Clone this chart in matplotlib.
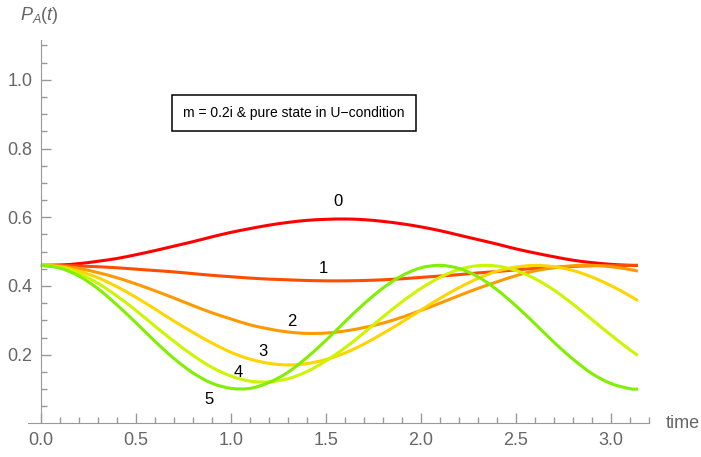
import numpy as np
import matplotlib
matplotlib.use("Agg")
import matplotlib.pyplot as plt
from matplotlib.path import Path
from matplotlib.patches import PathPatch
from matplotlib.ticker import FixedLocator

plt.rcParams['font.family'] = ['Liberation Sans', 'DejaVu Sans']
plt.rcParams['mathtext.fontset'] = 'custom'
plt.rcParams['mathtext.rm'] = 'Liberation Sans'
plt.rcParams['mathtext.it'] = 'Liberation Sans:italic'

# time samples (0 .. pi)
t = [0.0, 0.1, 0.2, 0.3, 0.4, 0.5, 0.6, 0.7, 0.8, 0.9, 1.0, 1.1, 1.2, 1.3, 1.4, 1.5,
     1.6, 1.7, 1.8, 1.9, 2.0, 2.1, 2.2, 2.3, 2.4, 2.5, 2.6, 2.7, 2.8, 2.9, 3.0, 3.1, 3.1416]

# P_A(t), one list per curve
p0 = [0.460, 0.461, 0.465, 0.472, 0.480, 0.491, 0.503, 0.516, 0.529, 0.543, 0.556,
      0.567, 0.577, 0.585, 0.591, 0.594, 0.595, 0.593, 0.588, 0.581, 0.572, 0.561,
      0.548, 0.535, 0.522, 0.508, 0.496, 0.485, 0.475, 0.468, 0.463, 0.460, 0.460]
p1 = [0.460, 0.460, 0.458, 0.456, 0.453, 0.449, 0.445, 0.441, 0.436, 0.431, 0.427,
      0.423, 0.420, 0.418, 0.416, 0.415, 0.415, 0.416, 0.418, 0.421, 0.425, 0.429,
      0.433, 0.438, 0.442, 0.447, 0.451, 0.454, 0.457, 0.459, 0.460, 0.460, 0.460]
p2 = [0.460, 0.458, 0.451, 0.439, 0.424, 0.406, 0.386, 0.365, 0.343, 0.322, 0.304,
      0.287, 0.275, 0.266, 0.262, 0.263, 0.269, 0.279, 0.292, 0.309, 0.329, 0.350,
      0.372, 0.393, 0.412, 0.430, 0.444, 0.453, 0.459, 0.460, 0.456, 0.448, 0.443]
p3 = [0.460, 0.456, 0.443, 0.424, 0.398, 0.367, 0.333, 0.298, 0.265, 0.234, 0.207,
      0.187, 0.175, 0.170, 0.174, 0.186, 0.205, 0.231, 0.262, 0.295, 0.330, 0.364,
      0.395, 0.422, 0.443, 0.455, 0.460, 0.456, 0.445, 0.426, 0.401, 0.371, 0.357]
p4 = [0.460, 0.454, 0.436, 0.408, 0.371, 0.329, 0.283, 0.239, 0.198, 0.163, 0.138,
      0.123, 0.121, 0.130, 0.151, 0.182, 0.220, 0.264, 0.310, 0.354, 0.393, 0.425,
      0.448, 0.459, 0.458, 0.445, 0.421, 0.388, 0.347, 0.302, 0.257, 0.214, 0.198]
p5 = [0.460, 0.452, 0.429, 0.392, 0.345, 0.293, 0.239, 0.189, 0.147, 0.117, 0.102,
      0.102, 0.119, 0.149, 0.192, 0.242, 0.296, 0.348, 0.394, 0.430, 0.453, 0.460,
      0.451, 0.427, 0.389, 0.342, 0.290, 0.236, 0.187, 0.145, 0.116, 0.101, 0.100]

curves = [p0, p1, p2, p3, p4, p5]
labels = ["0", "1", "2", "3", "4", "5"]
label_x = [1.563, 1.489, 1.321, 1.168, 1.037, 0.884]
label_y = [0.645, 0.450, 0.298, 0.208, 0.147, 0.070]
colors = ["#ff0000", "#ff4d00", "#ff9900", "#ffd500", "#ccf500", "#80f000"]


def smooth_path(xs, ys):
    # Catmull-Rom through the read points, as cubic bezier segments
    x = np.asarray(xs, float)
    y = np.asarray(ys, float)
    n = len(x)
    verts = [(x[0], y[0])]
    codes = [Path.MOVETO]
    for i in range(n - 1):
        i0 = max(i - 1, 0)
        i3 = min(i + 2, n - 1)
        c1 = (x[i] + (x[i + 1] - x[i0]) / 6, y[i] + (y[i + 1] - y[i0]) / 6)
        c2 = (x[i + 1] - (x[i3] - x[i]) / 6, y[i + 1] - (y[i3] - y[i]) / 6)
        verts += [c1, c2, (x[i + 1], y[i + 1])]
        codes += [Path.CURVE4] * 3
    return Path(verts, codes)


fig = plt.figure(figsize=(7.01, 4.57), dpi=100)
ax = fig.add_axes([28 / 701, 1 - 423.4 / 457, 621 / 701, 383.4 / 457])

for y, c in zip(curves, colors):
    ax.add_patch(PathPatch(smooth_path(t, y), fc='none', ec=c, lw=2.2,
                           capstyle='butt'))

for lab, lx, ly in zip(labels, label_x, label_y):
    ax.text(lx, ly, lab, fontsize=12, ha='center', va='center', color='black')

ax.text(1.33, 0.904, "m = 0.2i & pure state in U\u2212condition", fontsize=10,
        ha='center', va='center',
        bbox=dict(boxstyle='square,pad=0.8', fc='white', ec='black', lw=1.1))

ax.set_xlim(-0.068, 3.2)
ax.set_ylim(0, 1.116)

gray = '#999999'
for s in ['top', 'right']:
    ax.spines[s].set_visible(False)
ax.spines['left'].set_position(('data', 0))
ax.spines['left'].set_color(gray)
ax.spines['bottom'].set_color(gray)

ax.xaxis.set_major_locator(FixedLocator([0, 0.5, 1.0, 1.5, 2.0, 2.5, 3.0]))
ax.xaxis.set_minor_locator(FixedLocator([i / 10 for i in range(33) if i % 5]))
ax.yaxis.set_major_locator(FixedLocator([0.2, 0.4, 0.6, 0.8, 1.0]))
ax.yaxis.set_minor_locator(FixedLocator([i / 20 for i in range(1, 23) if i % 4]))
ax.set_xticklabels(["0.0", "0.5", "1.0", "1.5", "2.0", "2.5", "3.0"])
ax.set_yticklabels(["0.2", "0.4", "0.6", "0.8", "1.0"])

ax.tick_params(which='both', direction='in', color=gray, labelcolor='#666666',
               labelsize=13, width=1)
ax.tick_params(which='major', length=7, pad=6)
ax.tick_params(which='minor', length=4)

ax.text(1.027, 0.0, "time", transform=ax.transAxes, fontsize=13, color='#666666',
        ha='left', va='center')
ax.text(0.019, 1.065, r"$P_A(t)$", transform=ax.transAxes, fontsize=13,
        color='#666666', ha='center', va='center')

fig.savefig("out.png", dpi=100)
